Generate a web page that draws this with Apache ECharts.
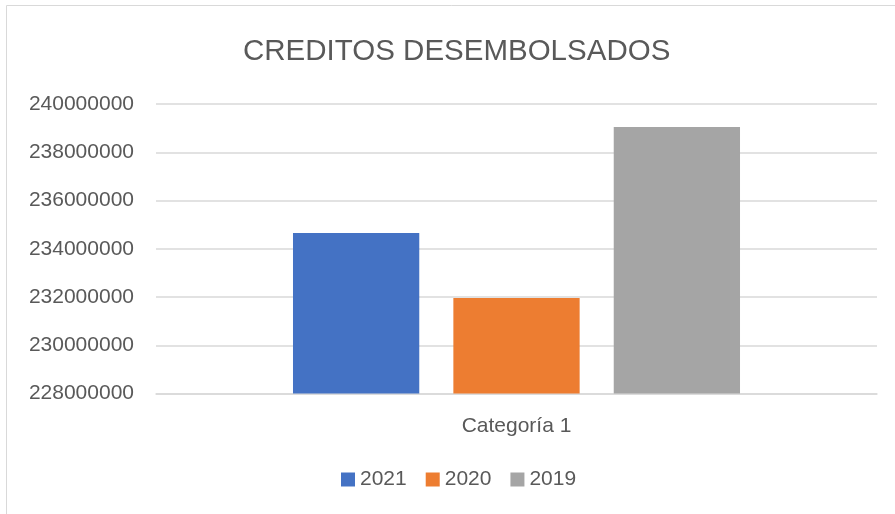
<!DOCTYPE html>
<html lang="es">
<head>
    <meta charset="UTF-8">
    <title>CREDITOS DESEMBOLSADOS</title>
    <script src="https://cdn.jsdelivr.net/npm/echarts@6/dist/echarts.min.js"></script>
    <style>
        body{
            margin: 0;
            background: #fff;
        }
        #chart{
            width: 895px;
            height: 514px;
        }
    </style>
</head>
<body>
<div id="chart"></div>
<script>
    var categories = ['Categoría 1'];
    var seriesNames = ['2021', '2020', '2019'];
    var seriesValues = [[234650000], [231960000], [239050000]];
    var seriesColors = ['#4472C4', '#ED7D31', '#A5A5A5'];
    var yMin = 228000000, yMax = 240000000, yStep = 2000000;

    var font = 'Liberation Sans';
    var myChart = echarts.init(document.getElementById('chart'));
    var series = seriesNames.map(function (name, i) {
        return {
            name: name,
            type: 'bar',
            data: seriesValues[i],
            itemStyle: { color: seriesColors[i] },
            barGap: '27%',
            barCategoryGap: '38%'
        };
    });
    myChart.setOption({
        animation: false,
        graphic: [{
            type: 'rect',
            shape: { x: 6.5, y: 5.5, width: 900, height: 520 },
            style: { fill: 'none', stroke: '#d9d9d9', lineWidth: 1 },
            silent: true
        }],
        title: {
            text: 'CREDITOS DESEMBOLSADOS',
            left: 238,
            top: 32,
            textStyle: { fontFamily: font, fontSize: 29.5, fontWeight: 'normal', color: '#595959' }
        },
        legend: {
            data: seriesNames,
            top: 464,
            left: 336,
            itemWidth: 14,
            itemHeight: 14,
            itemGap: 19,
            icon: 'rect',
            textStyle: { fontFamily: font, fontSize: 21, color: '#595959' }
        },
        grid: { left: 156, right: 18, top: 104, bottom: 120.5 },
        xAxis: {
            type: 'category',
            data: categories,
            axisLine: { lineStyle: { color: '#d9d9d9', width: 1.5 } },
            axisTick: { show: false },
            axisLabel: { fontFamily: font, fontSize: 21, color: '#595959', margin: 22 }
        },
        yAxis: {
            type: 'value',
            min: yMin,
            max: yMax,
            interval: yStep,
            axisLine: { show: false },
            axisTick: { show: false },
            splitLine: { lineStyle: { color: '#d9d9d9', width: 1.5 } },
            axisLabel: {
                fontFamily: font, fontSize: 21, color: '#595959', margin: 22,
                formatter: function (v) { return String(v); }
            }
        },
        series: series
    });
</script>
</body>
</html>
